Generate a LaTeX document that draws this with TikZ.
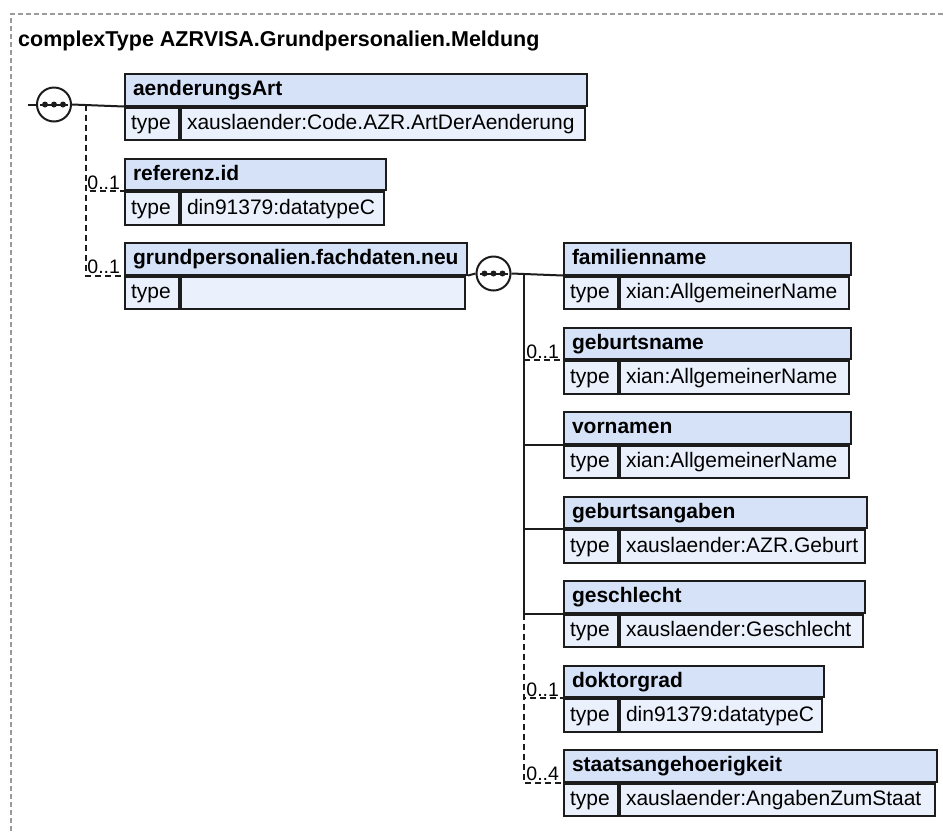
\documentclass[tikz,border=0pt]{standalone}
\usepackage{fontspec}
\setmainfont{Liberation Sans}
\definecolor{hdrfill}{RGB}{214,226,248}
\definecolor{typfill}{RGB}{235,241,252}
\definecolor{boxline}{RGB}{28,28,28}
\definecolor{framegray}{RGB}{155,155,155}
% element box: name, x, y, width, title, type
\newcommand{\elem}[6]{%
\pgfmathsetmacro{\tw}{#4-16}%
\pgfmathsetmacro{\vw}{#4-70}%
\node[head,text width=\tw pt] (#1) at (#2,#3) {\mbox{#5}};
\node[tcell] (#1-t) at (#1.south west) {type};
\node[tcell,text width=\vw pt] (#1-v) at (#1-t.north east) {\mbox{#6}};
}

\begin{document}
\begin{tikzpicture}[x=1pt,y=-1pt,
  head/.style={draw=boxline,fill=hdrfill,line width=2pt,anchor=north west,
    minimum height=31.5pt,inner xsep=8pt,inner ysep=0pt,text height=15.5pt,text depth=4pt,
    font=\bfseries\fontsize{21}{25}\selectfont},
  tcell/.style={draw=boxline,fill=typfill,line width=2pt,anchor=north west,
    minimum height=32.5pt,text width=42pt,inner xsep=6pt,inner ysep=0pt,text height=15.5pt,text depth=4pt,
    font=\fontsize{21}{25}\selectfont},
  seq/.style={circle,draw=boxline,fill=white,line width=2pt,minimum size=34pt,inner sep=0pt,
    path picture={\draw[boxline,line width=2pt] ([xshift=-14pt]path picture bounding box.center) -- ([xshift=14pt]path picture bounding box.center);
      \foreach \d in {-9,0,9} \fill[boxline] ([xshift=\d pt]path picture bounding box.center) circle (3pt);}},
  conn/.style={line width=2pt,draw=boxline},
  opt/.style={conn,dash pattern=on 6pt off 4pt},
  mult/.style={anchor=base east,inner sep=0pt,xshift=-3pt,yshift=2pt,font=\fontsize{19.5}{23}\selectfont}]
\useasboundingbox (0,0) rectangle (943,831);
\draw[framegray,line width=1.2pt,dash pattern=on 5pt off 3pt] (11,831) -- (11,14) -- (943,14);
\node[anchor=base west,inner sep=0pt,font=\bfseries\fontsize{21.5}{26}\selectfont] (title) at (18,46)
  {complexType AZRVISA.Grundpersonalien.Meldung};

% first sequence
\elem{aend}{124}{73}{462}{aenderungsArt}{xauslaender:Code.AZR.ArtDerAenderung}
\elem{ref}{124}{157.5}{261}{referenz.id}{din91379:datatypeC}
\elem{grund}{124}{242}{342}{grundpersonalien.fachdaten.neu}{}
\coordinate (root) at (28,104.5);
\node[seq] (seq1) at (54,104.5) {};
\coordinate (j1) at (86,104.5);
\draw[conn] (root) -- (seq1.west);
\draw[conn] (seq1.east) -- (aend.south west);
\draw[opt] (j1) |- (ref.south west) node[mult] (ref-m) {0..1};
\draw[opt] (j1) |- (grund.south west) node[mult] (grund-m) {0..1};

% second sequence
\elem{fam}{563}{242}{287}{familienname}{xian:AllgemeinerName}
\elem{gbn}{563}{326.5}{287}{geburtsname}{xian:AllgemeinerName}
\elem{vor}{563}{411}{287}{vornamen}{xian:AllgemeinerName}
\elem{gba}{563}{495.5}{303}{geburtsangaben}{xauslaender:AZR.Geburt}
\elem{ges}{563}{580}{301}{geschlecht}{xauslaender:Geschlecht}
\elem{dok}{563}{664.5}{260}{doktorgrad}{din91379:datatypeC}
\elem{sta}{563}{749}{373}{staatsangehoerigkeit}{xauslaender:AngabenZumStaat}
\node[seq] (seq2) at (493.5,273.5) {};
\coordinate (j2) at (524,273.5);
\draw[conn] (grund.south east) -- (seq2.west);
\draw[conn] (seq2.east) -- (fam.south west);
\foreach \n in {vor,gba,ges} \draw[conn] (j2) |- (\n.south west);
\draw[opt] (j2 |- gbn.south west) -- (gbn.south west) node[mult] (gbn-m) {0..1};
\draw[opt] (j2 |- ges.south west) |- (dok.south west) node[mult] (dok-m) {0..1};
\draw[opt] (j2 |- ges.south west) |- (sta.south west) node[mult] (sta-m) {0..4};
\end{tikzpicture}
\end{document}
